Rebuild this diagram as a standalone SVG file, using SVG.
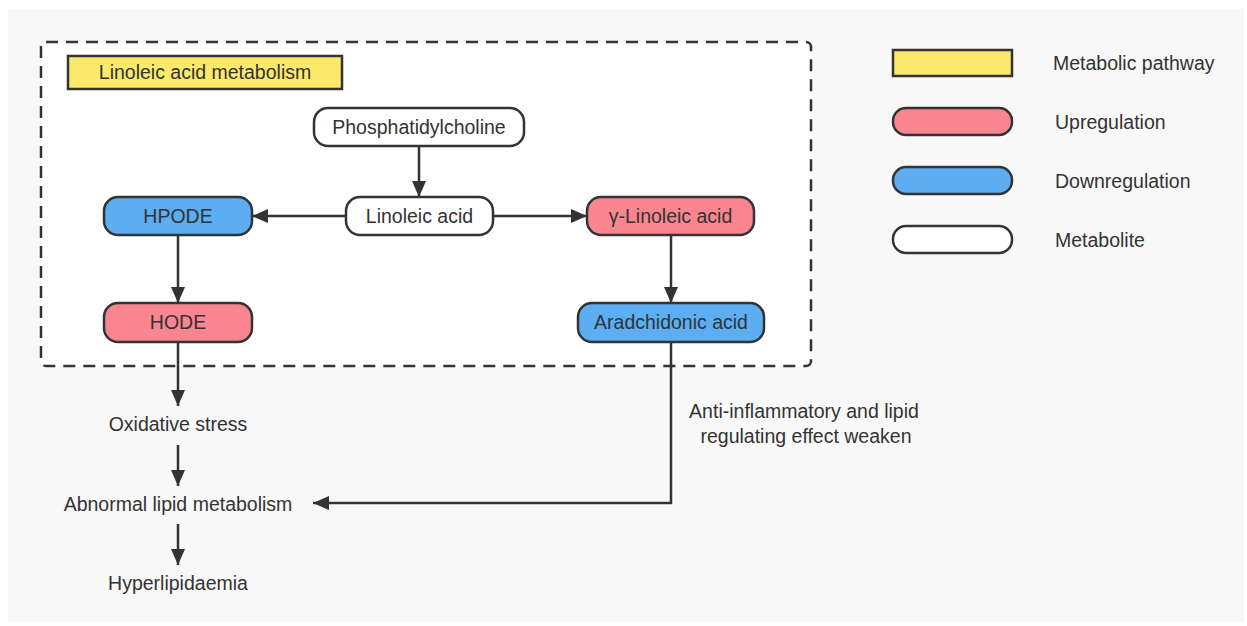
<svg xmlns="http://www.w3.org/2000/svg" width="1247" height="626" viewBox="0 0 1247 626">
<defs>
<marker id="ah" viewBox="0 0 16 14" refX="16" refY="7" markerWidth="16" markerHeight="14" markerUnits="userSpaceOnUse" orient="auto">
<path d="M0,0 L16,7 L0,14 Z" fill="#333"/>
</marker>
<style>
.t{font-family:"Liberation Sans",Arial,sans-serif;font-size:19.5px;fill:#333;}
.c{text-anchor:middle;}
.n{stroke:#333;stroke-width:2.5;}
.w{fill:#fff;}
.p{fill:#f98590;}
.b{fill:#5cadf2;}
.y{fill:#fbe96c;}
.e{fill:none;stroke:#333;stroke-width:2.5;marker-end:url(#ah);}
</style>
</defs>
<rect x="0" y="0" width="1247" height="626" fill="#fff"/>
<rect x="8" y="9" width="1236" height="613" fill="#f8f8f8"/>
<g id="pathway-box">
<rect x="41" y="42" width="770" height="324" rx="5" fill="#fff" stroke="#333" stroke-width="2.5" stroke-dasharray="12 8"/>
</g>
<g id="title">
<rect x="68" y="56" width="274" height="33" class="n y"/>
<text x="205" y="79" class="t c">Linoleic acid metabolism</text>
</g>
<g id="connectors">
<line x1="419" y1="146" x2="419" y2="197" class="e"/>
<line x1="346" y1="216" x2="252" y2="216" class="e"/>
<line x1="493" y1="216" x2="587" y2="216" class="e"/>
<line x1="178" y1="235" x2="178" y2="303" class="e"/>
<line x1="671" y1="235" x2="671" y2="303" class="e"/>
<line x1="178" y1="342" x2="178" y2="406" class="e"/>
<line x1="178" y1="445" x2="178" y2="486" class="e"/>
<line x1="178" y1="524" x2="178" y2="565" class="e"/>
<polyline points="671,342 671,503 313,503" class="e"/>
</g>
<g id="phosphatidylcholine">
<rect x="314" y="108" width="210" height="38" rx="14" class="n w"/>
<text x="419" y="134" class="t c">Phosphatidylcholine</text>
</g>
<g id="linoleic-acid">
<rect x="346" y="197" width="147" height="38" rx="14" class="n w"/>
<text x="419.5" y="223" class="t c">Linoleic acid</text>
</g>
<g id="hpode">
<rect x="104" y="197" width="148" height="38" rx="14" class="n b"/>
<text x="178" y="223" class="t c">HPODE</text>
</g>
<g id="gamma-linoleic-acid">
<rect x="587" y="197" width="167" height="38" rx="14" class="n p"/>
<text x="670.5" y="223" class="t c">γ-Linoleic acid</text>
</g>
<g id="hode">
<rect x="104" y="303" width="148" height="39" rx="14" class="n p"/>
<text x="178" y="329" class="t c">HODE</text>
</g>
<g id="aradchidonic-acid">
<rect x="578" y="303" width="186" height="39" rx="14" class="n b"/>
<text x="671" y="329" class="t c">Aradchidonic acid</text>
</g>
<g id="oxidative-stress">
<text x="178" y="431" class="t c">Oxidative stress</text>
</g>
<g id="abnormal-lipid-metabolism">
<text x="178" y="511" class="t c">Abnormal lipid metabolism</text>
</g>
<g id="hyperlipidaemia">
<text x="178" y="590" class="t c">Hyperlipidaemia</text>
</g>
<g id="effect-label">
<text x="804" y="418" class="t c">Anti-inflammatory and lipid</text>
<text x="806" y="443" class="t c">regulating effect weaken</text>
</g>
<g id="legend">
<rect x="893" y="50" width="119" height="26" class="n y"/>
<text x="1053" y="70" class="t">Metabolic pathway</text>
<rect x="893" y="108" width="119" height="27" rx="13" class="n p"/>
<text x="1055" y="129" class="t">Upregulation</text>
<rect x="893" y="167" width="119" height="27" rx="13" class="n b"/>
<text x="1055" y="188" class="t">Downregulation</text>
<rect x="893" y="226" width="119" height="27" rx="13" class="n w"/>
<text x="1055" y="247" class="t">Metabolite</text>
</g>
</svg>
